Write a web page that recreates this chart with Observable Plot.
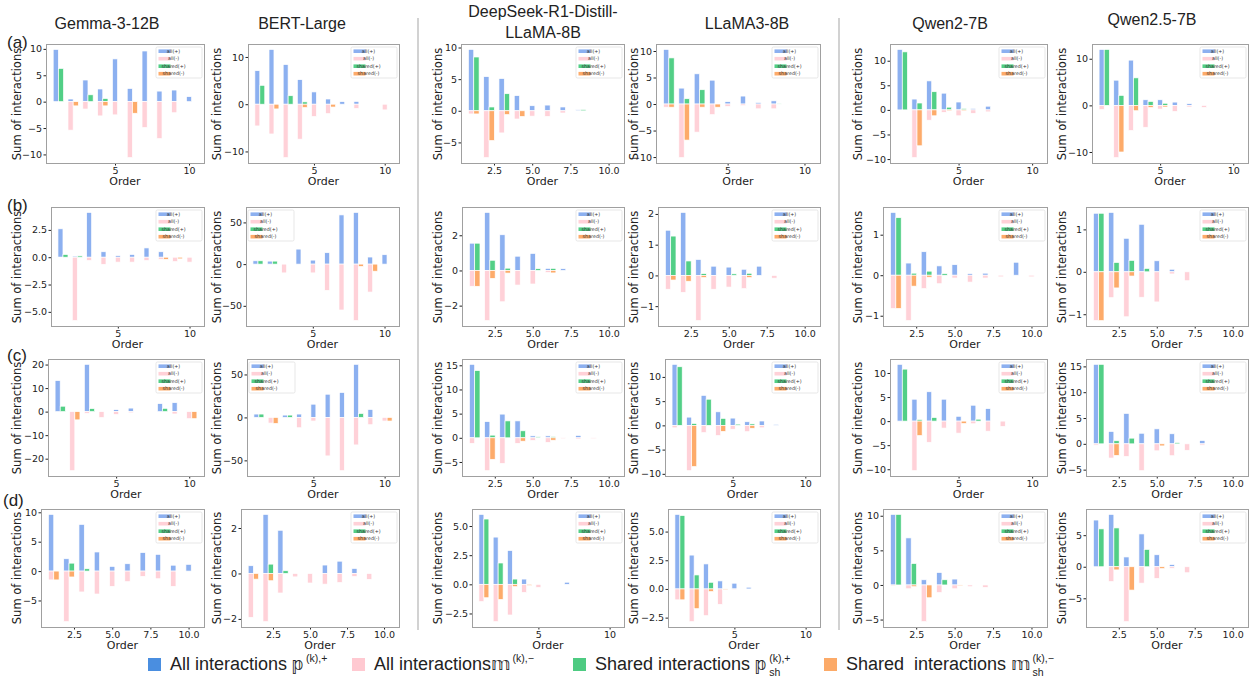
<!DOCTYPE html>
<html><head><meta charset="utf-8">
<script src="https://cdn.jsdelivr.net/npm/d3@7"></script>
<script src="https://cdn.jsdelivr.net/npm/@observablehq/plot@0.6"></script>
<style>
html,body{margin:0;padding:0;background:#fff;}
#root{position:relative;width:1255px;height:696px;overflow:hidden;font-family:"DejaVu Sans",sans-serif;color:#222;}
.abs{position:absolute;white-space:nowrap;}
.title{font-family:"Liberation Sans",Arial,sans-serif;font-size:16px;transform:translate(-50%,-50%);text-align:center;line-height:21px;}
.rowlab{font-family:"Liberation Sans",sans-serif;font-size:17px;line-height:19px;transform:translate(0,-50%);}
.ylab{font-size:11.5px;transform:translate(-50%,-50%) rotate(-90deg);}
.xlab{font-size:11px;line-height:12.8px;transform:translate(-50%,-50%);}
.sep{position:absolute;width:2px;background:#d2d2d2;}
.leg{position:absolute;top:649px;height:30px;font-family:"Liberation Sans",sans-serif;font-size:18px;display:flex;align-items:center;white-space:nowrap;}
.sw{width:13px;height:13px;margin-right:9px;flex:none;}
.main{line-height:21px;white-space:pre;}
.mm{font-family:"DejaVu Sans",sans-serif;font-size:17px;line-height:20px;}
.col{display:flex;flex-direction:column;margin-left:2px;position:relative;}
.col span{display:block;font-size:10.5px;line-height:13px;height:13px;}
.col.ns{top:-5.5px;}
.col.sh{top:1.25px;}
.col.sh span+span{margin-top:0.5px;}
</style></head>
<body><div id="root"></div>
<script>
// ---------------- DATA ----------------
const models = ["Gemma-3-12B", "BERT-Large", "DeepSeek-R1-Distill-|LLaMA-8B", "LLaMA3-8B", "Qwen2-7B", "Qwen2.5-7B"];
const rowLabels = ["(a)", "(b)", "(c)", "(d)"];
const seriesNames = ["all(+)", "all(-)", "shared(+)", "shared(-)"];
const orders = [1, 2, 3, 4, 5, 6, 7, 8, 9, 10];

// each panel: [all(+), all(-), shared(+), shared(-)] for orders 1..10
const a_gemma = [[9.9,0.5,4.1,2.4,8.1,2.5,9.6,2.0,2.2,0.95],[0,-5.4,-1.4,-2.7,-2.5,-10.6,-4.9,-7.0,-2.1,0],[6.3,0,1.3,0.6,0,0,0,0,0,0],[0,-0.8,0,-0.8,0,-2.2,0,0,0,0]];
const a_bert = [[7.1,11.6,8.4,5.2,2.6,1.1,0.55,0.6,0,0],[-4.6,-6.3,-11.3,-7.4,-2.6,-2.0,0,-0.9,0,-1.2],[4.0,0,1.8,0.5,0,0,0,0,0,0],[0,-1.0,0,-0.7,0,-0.6,0,0,0,0]];
const a_deepseek = [[9.7,5.4,5.1,2.4,0.8,0.9,0.6,0.15,0,0],[-0.5,-7.4,-3.5,-1.3,-0.85,-0.9,-0.35,0,0,0],[8.5,0.6,2.7,0,0,0,0,0.2,0,0],[-0.5,-4.7,-0.6,-0.9,0,0,0,0,0,0]];
const a_llama = [[10.3,3.0,5.7,4.5,0.45,1.5,0.3,0.6,0,0],[-0.6,-10.1,-5.3,-2.0,-0.45,-0.3,-0.9,-0.9,0,0],[8.7,1.0,2.7,0,0,0,0,0.15,0,0],[-0.6,-6.8,-0.6,-0.6,0,0,0,0,0,0]];
const a_qwen2 = [[12.3,2.2,5.9,3.4,1.6,0.3,0.75,0,0,0],[0,-9.7,-2.1,-0.5,-1.2,-0.7,-0.4,0,0,0],[11.8,1.4,3.7,0.55,0.3,0,0,0,0,0],[0,-7.3,-1.2,-0.2,-0.2,0,0,0,0,0]];
const a_qwen25 = [[12.0,5.4,9.7,1.2,1.2,0.7,0.35,0,0,0],[-0.9,-11.2,-5.4,-4.7,-0.8,-1.3,-0.35,-0.45,0,0],[12.0,2.15,5.9,0.85,0.45,0,0,0,0,0],[0,-10.0,-1.15,-0.45,-0.35,0,0,0,0,0]];

const b_gemma = [[2.6,0.1,4.1,0.5,0.15,0.25,0.85,0.5,0,0],[-0.05,-5.8,-0.3,-0.65,-0.45,-0.45,-0.3,-0.2,-0.4,-0.45],[0.25,0.12,0,0,0,0,0,0,0,0],[0,0,0,0,0,0,0,-0.2,-0.15,0]];
const b_bert = [[4,3.6,0,18,4.8,13.7,59,62,8.5,11.3],[0,0,-10.5,0,-10.5,-31.5,-55,-67.7,-33.5,0],[4,3.6,0,0,0,0,0,0,0,0],[0,0,0,0,0,0,0,-2.8,-8.5,0]];
const b_deepseek = [[1.55,3.3,2.03,0.81,0.97,0.12,0.1,0,0,0],[-0.9,-2.85,-1.78,-0.83,-0.77,-0.12,0,0,0,0],[1.55,0.58,0.13,0,0.1,0.12,0,0,0,0],[-0.9,-0.45,-0.15,0,0,-0.14,0,0,0,0]];
const b_llama = [[1.47,2.05,0.52,0.3,0.27,0.2,0.3,0,0,0],[-0.45,-0.55,-1.47,-0.45,-0.38,-0.43,0,-0.09,0,0],[1.28,0.47,0.06,0,0.05,0.07,0,0,0,0],[-0.15,-0.19,-0.07,0,0,-0.07,0,0,0,0]];
const b_qwen2 = [[1.55,0.3,0.58,0.23,0.26,0.04,0.05,0,0.32,0],[-0.82,-1.12,-0.33,-0.21,-0.07,-0.17,-0.07,-0.04,0,-0.04],[1.42,0.05,0.1,0.04,0,0,0,0,0,0],[-0.82,-0.27,-0.05,0,0,0,0,0,0,0]];
const b_qwen25 = [[1.38,1.4,0.79,1.12,0.26,0.06,0,0,0,0],[-1.15,-0.61,-1.06,-0.6,-0.71,-0.05,-0.21,0,0,0],[1.38,0.22,0.27,0.08,0,0,0,0,0,0],[-1.15,-0.38,-0.1,0,0,0,0,0,0,0]];

const c_gemma = [[13.2,0,20.1,0,0.85,1.5,0,3.4,3.8,0],[0,-25.1,-0.7,-2.5,-1.2,-0.5,0,0,-1.0,-3.0],[2.3,0,1.3,0,0,0,0,1.4,0,0],[0,-3.5,0,0,0,0,0,0,0,-3.0]];
const c_bert = [[3.9,0,2.7,3.9,15.4,27,29,61.8,9.3,0],[0,-6.6,0,-12,-4.2,-44.8,-62,-32,-8.5,-4.2],[3.9,0,2.7,0,0,0,0,4.6,0,0],[0,-7,0,0,0,0,0,0,0,-4.2]];
const c_deepseek = [[15.2,3.35,4.9,3.5,0.4,0.4,0,0.5,0,0],[-1.15,-6.8,-5.3,-1.15,-0.55,-0.95,-0.2,-0.25,-0.2,0],[13.9,0.55,3.5,1.45,0.2,0.25,0,0,0,0],[0,-4.45,0,-0.7,0,-0.5,0,0,0,0]];
const c_llama = [[12.6,1.7,6.2,2.8,1.5,0.75,0.9,0.2,0,0],[-0.5,-9.35,-1.5,-2.1,-0.8,-1.3,-0.5,0,0,0],[12.1,0.4,5.4,1.45,0.25,0.3,0,0,0,0],[0,-8.5,0,-1.25,0,-0.6,0,0,0,0]];
const c_qwen2 = [[11.8,4.55,6.1,4.55,1.0,3.3,2.6,0,0,0],[0,-10.3,-4.4,-1.45,-2.5,-0.55,-2.1,-1.1,0,0],[10.8,0.35,0.75,0,0,0.4,0,0,0,0],[0,-3.0,0,0,-0.5,0,0,0,0,0]];
const c_qwen25 = [[15.4,2.4,5.9,2.05,2.9,1.95,0,0.65,0,0],[-0.25,-2.75,-2.45,-5.2,-1.35,-2.3,-1.25,-0.25,0,0],[15.4,0.6,1.1,0,0,0.25,0,0,0,0],[0,-2.25,0,0,-0.4,0,0,0,0,0]];

const d_gemma = [[9.65,2.1,7.95,3.25,0.8,1.25,3.15,2.85,1.0,1.15],[-1.5,-8.6,-3.55,-3.9,-2.6,-1.8,-0.9,-1.3,-2.6,0],[0,1.35,0.4,0,0,0,0,0,0,0],[-1.5,-1.0,0,0,0,0,0,0,0,0]];
const d_bert = [[0.34,2.6,1.9,0,0,0.37,0.54,0.22,0,0],[-1.93,-2.12,-0.86,-0.15,-0.42,-0.47,-0.4,-0.13,-0.26,0],[0,0.41,0.12,0,0,0,0,0,0,0],[-0.25,-0.32,0,0,0,0,0,0,0,0]];
const d_deepseek = [[6.0,4.05,2.9,0.45,0,0,0.18,0,0,0],[-1.48,-3.2,-2.63,-0.7,-0.27,0,0,0,0,0],[5.6,1.83,0.45,0,0,0,0,0,0,0],[-1.15,-1.3,-0.2,-0.1,0,0,0,0,0,0]];
const d_llama = [[6.5,2.95,2.18,0.7,0.5,0.15,0,0,0,0],[-0.95,-2.85,-2.33,-1.34,-0.08,0,0,0,0,0],[6.4,1.22,0.58,0,0,0,0,0,0,0],[-0.95,-1.72,-0.23,-0.08,0,0,0,0,0,0]];
const d_qwen2 = [[10.2,6.8,0.75,1.8,0.85,0,0,0,0,0],[-0.15,-0.55,-5.3,-1.1,-0.55,-0.25,-0.35,0,0,0],[10.2,3.1,0,0.75,0,0,0,0,0,0],[0,-0.25,-1.85,0,-0.1,0,0,0,0,0]];
const d_qwen25 = [[7.4,8.3,1.55,5.2,1.9,0.35,0,0,0,0],[0,-2.35,-8.7,-2.6,-1.85,-0.25,-0.95,0,0,0],[6.0,6.15,0,2.75,0,0,0,0,0,0],[0,-0.5,-3.7,0,-0.3,0,0,0,0,0]];

// y tick labels per panel
const yTicks_a = [[-10,-5,0,5,10],[-10,0,10],[-5,0,5,10],[-10,-5,0,5,10],[-10,-5,0,5,10],[-10,0,10]];
const yTicks_b = [[-5,-2.5,0,2.5],[-50,0,50],[-2,0,2],[-1,0,1,2],[-1,0,1],[-1,0,1]];
const yTicks_c = [[-20,-10,0,10,20],[-50,0,50],[-5,0,5,10,15],[-10,-5,0,5,10],[-10,-5,0,5,10],[-5,0,5,10,15]];
const yTicks_d = [[-5,0,5,10],[-2,0,2],[-2.5,0,2.5,5],[-2.5,0,2.5,5],[-5,0,5,10],[-5,0,5]];
// x tick labels
const xTicksInt = [5, 10];
const xTicksDec = [2.5, 5, 7.5, 10];
const xStyle_a = ["int","int","dec","int","int","int"];
const xStyle_b = ["int","int","dec","dec","dec","dec"];
const xStyle_c = ["int","int","dec","int","int","dec"];
const xStyle_d = ["dec","dec","int","int","dec","dec"];

const legendItems = ["All interactions ", "All interactions", "Shared interactions ", "Shared  interactions "];
const legendSymbols = ["𝕡", "𝕞", "𝕡", "𝕞"];
const legendSup = ["(k),+", "(k),−", "(k),+", "(k),−"];
const legendSub = ["", "", "sh", "sh"];

// ---------------- LAYOUT / STYLE ----------------
const colors = ["#8cb0f0", "#ffd1d8", "#52cf86", "#fdab6a"];
const legendColors = ["#4a8ee0", "#ffc9d1", "#4ecb82", "#fcaa68"];
const frameTop = [44, 207, 359, 509];
const frameBottom = [163, 326, 476, 627];
const frameLeft = [[46,248,461,656,890,1092],[51,246,462,658,883,1086],[48,247,462,665,890,1086],[41,241,472,668,883,1086]];
const frameRight = [204, 399, 624, 820, 1047, 1248];
const ylabelX = [17, 217, 438, 634, 858, 1062];
const titleX = [107, 302, 543, 747, 950, 1152];
const titleY = [23, 23, 22, 23, 23, 19];
const rowLabelX = [7, 7, 7, 3];
const rowLabelY = [42, 205, 355, 500];
const legendLeftPanels = ["1-1", "2-1"];

const panels = [
  [a_gemma, a_bert, a_deepseek, a_llama, a_qwen2, a_qwen25],
  [b_gemma, b_bert, b_deepseek, b_llama, b_qwen2, b_qwen25],
  [c_gemma, c_bert, c_deepseek, c_llama, c_qwen2, c_qwen25],
  [d_gemma, d_bert, d_deepseek, d_llama, d_qwen2, d_qwen25]
];
const yTicks = [yTicks_a, yTicks_b, yTicks_c, yTicks_d];
const xStyles = [xStyle_a, xStyle_b, xStyle_c, xStyle_d];

const root = document.getElementById("root");
function addDiv(cls, html, left, top) {
  const d = document.createElement("div");
  d.className = "abs " + cls;
  d.innerHTML = html;
  d.style.left = left + "px";
  d.style.top = top + "px";
  root.appendChild(d);
  return d;
}

const barW = 0.35, shift = 0.35;
const xlo0 = orders[0] - barW / 2, xhi0 = orders[orders.length - 1] + shift + barW / 2;
const xpad = (xhi0 - xlo0) * 0.05;
const xDomain = [xlo0 - xpad, xhi0 + xpad];
const shifts = [0, 0, shift, shift];

const ML = 32, MR = 6, MT = 4, MB = 16;

for (let r = 0; r < 4; r++) {
  for (let c = 0; c < 6; c++) {
    const data = panels[r][c];
    const fl = frameLeft[r][c], fr = frameRight[c], ft = frameTop[r], fb = frameBottom[r];
    const W = fr - fl + ML + MR, H = fb - ft + MT + MB;
    const all = data.flat();
    const ymax = Math.max(0, ...all), ymin = Math.min(0, ...all);
    const ypad = (ymax - ymin) * 0.05;
    const yt = yTicks[r][c];
    const yDec = yt.some(v => !Number.isInteger(v));
    const xs = xStyles[r][c];
    const marks = data.map((arr, si) => {
      const recs = arr.map((v, i) => ({order: orders[i], v})).filter(d => d.v !== 0);
      return Plot.rect(recs, {
        x1: d => d.order + shifts[si] - barW / 2,
        x2: d => d.order + shifts[si] + barW / 2,
        y1: 0, y2: "v",
        fill: colors[si], stroke: "white", strokeWidth: 0.7
      });
    });
    marks.push(Plot.frame({stroke: "#a0a0a0", strokeWidth: 1}));
    const svg = Plot.plot({
      width: W, height: H,
      marginLeft: ML, marginRight: MR, marginTop: MT, marginBottom: MB,
      x: {type: "linear", domain: xDomain, ticks: xs === "int" ? xTicksInt : xTicksDec,
          tickFormat: xs === "int" ? d3.format("d") : d3.format(".1f"), label: null, tickSize: 2.5, tickPadding: 1},
      y: {type: "linear", domain: [ymin - ypad, ymax + ypad], ticks: yt,
          tickFormat: yDec ? d3.format(".1f") : d3.format("d"), label: null, tickSize: 2.5, tickPadding: 2},
      style: {fontSize: "9.5px", fontFamily: "DejaVu Sans, sans-serif", color: "#222", background: "transparent", overflow: "visible"},
      marks
    });
    // in-panel legend
    const sel = d3.select(svg);
    const lw = 46, lh = 31;
    const onLeft = legendLeftPanels.includes(r + "-" + c);
    const lx = onLeft ? ML + 2 : W - MR - lw - 2;
    const ly = MT + 3;
    const g = sel.append("g").attr("transform", `translate(${lx},${ly})`);
    g.append("rect").attr("width", lw).attr("height", lh).attr("rx", 1.5)
      .attr("fill", "white").attr("fill-opacity", 0.85).attr("stroke", "#d6d6d6").attr("stroke-width", 0.6);
    seriesNames.forEach((nm, i) => {
      const cy = 4.2 + i * 7.5;
      g.append("rect").attr("x", 2.5).attr("y", cy - 1.8).attr("width", 12).attr("height", 3.6).attr("fill", colors[i]);
      g.append("text").attr("transform", `translate(17.5,${cy}) scale(0.48)`).attr("dy", "0.35em")
        .style("font-size", "10px").style("font-family", "DejaVu Sans, sans-serif").attr("fill", "#333").text(nm);
    });
    const wrap = document.createElement("div");
    wrap.className = "abs";
    wrap.style.left = (fl - ML) + "px";
    wrap.style.top = (ft - MT) + "px";
    wrap.appendChild(svg);
    root.appendChild(wrap);

    addDiv("ylab", "Sum of interactions", ylabelX[c], (ft + fb) / 2);
    addDiv("xlab", "Order", (fl + fr) / 2, fb + 19);
  }
}

// column titles
models.forEach((m, c) => {
  addDiv("title", m.split("|").join("<br>"), titleX[c], titleY[c]);
});
// row labels
rowLabels.forEach((t, r) => addDiv("rowlab", t, rowLabelX[r], rowLabelY[r]));

// separators
[417, 838].forEach(x => {
  const d = document.createElement("div");
  d.className = "sep";
  d.style.left = x + "px"; d.style.top = "18px"; d.style.height = "612px";
  root.appendChild(d);
});

// bottom legend
const legendX = [148, 352, 573, 824];
legendItems.forEach((t, i) => {
  const d = document.createElement("div");
  d.className = "leg";
  d.style.left = legendX[i] + "px";
  const scripts = legendSub[i]
    ? `<span class="col sh"><span>${legendSup[i]}</span><span>${legendSub[i]}</span></span>`
    : `<span class="col ns"><span>${legendSup[i]}</span></span>`;
  d.innerHTML = `<span class="sw" style="background:${legendColors[i]}"></span><span class="main">${t}</span><span class="mm">${legendSymbols[i]}</span>${scripts}`;
  root.appendChild(d);
});
</script></body></html>
